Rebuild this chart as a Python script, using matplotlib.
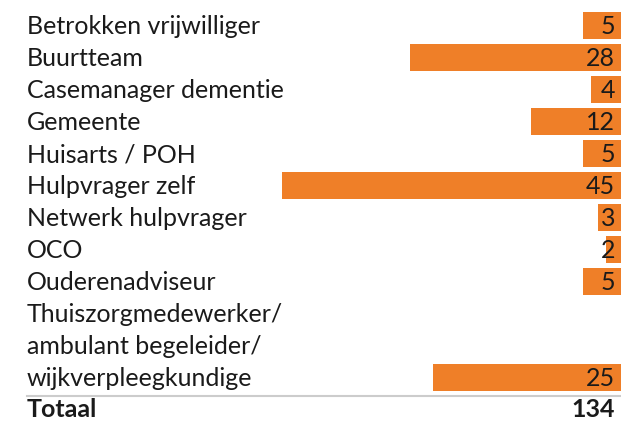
import matplotlib
matplotlib.use('Agg')
import matplotlib.pyplot as plt
import matplotlib.transforms as mtransforms

# data
categories = [
    'Betrokken vrijwilliger',
    'Buurtteam',
    'Casemanager dementie',
    'Gemeente',
    'Huisarts / POH',
    'Hulpvrager zelf',
    'Netwerk hulpvrager',
    'OCO',
    'Ouderenadviseur',
    'Thuiszorgmedewerker/\nambulant begeleider/\nwijkverpleegkundige',
]
values = [5, 28, 4, 12, 5, 45, 3, 2, 5, 25]
total_label = 'Totaal'
total_value = 134

plt.rcParams['font.family'] = ['Lato', 'DejaVu Sans']

W, H = 621, 421
fig = plt.figure(figsize=(W / 100, H / 100), dpi=100)
ax = fig.add_axes([0, 0, 1, 1])

px_per_unit = 7.53
row_px = 32
first_row_px = 25.5
ax.set_xlim(W / px_per_unit, 0)
ax.set_ylim((H - first_row_px) / row_px, -first_row_px / row_px)
ax.axis('off')

orange = '#EF7F28'
txt = '#1a1a1a'
fs = 18
blend = mtransforms.blended_transform_factory(ax.transAxes, ax.transData)
lx = 27 / W
rx = 1 - 6 / W

row = 0
for cat, v in zip(categories, values):
    lines = cat.split('\n')
    for ln in lines:
        ax.text(lx, row + 0.04, ln, transform=blend, ha='left', va='center',
                fontsize=fs, color=txt)
        row += 1
    bar_row = row - 1
    ax.barh(bar_row, v, height=0.85, color=orange, left=0)
    ax.text(rx, bar_row + 0.04, str(v), transform=blend, ha='right', va='center',
            fontsize=fs, color=txt)

# separator and total
ax.plot([lx, 1], [row - 0.42, row - 0.42], transform=blend,
        color='#cccccc', lw=1.5)
ax.text(lx, row, total_label, transform=blend, ha='left', va='center',
        fontsize=fs, fontweight='bold', color=txt)
ax.text(rx, row, str(total_value), transform=blend, ha='right', va='center',
        fontsize=fs, fontweight='bold', color=txt)

fig.savefig('out.png', dpi=100)
